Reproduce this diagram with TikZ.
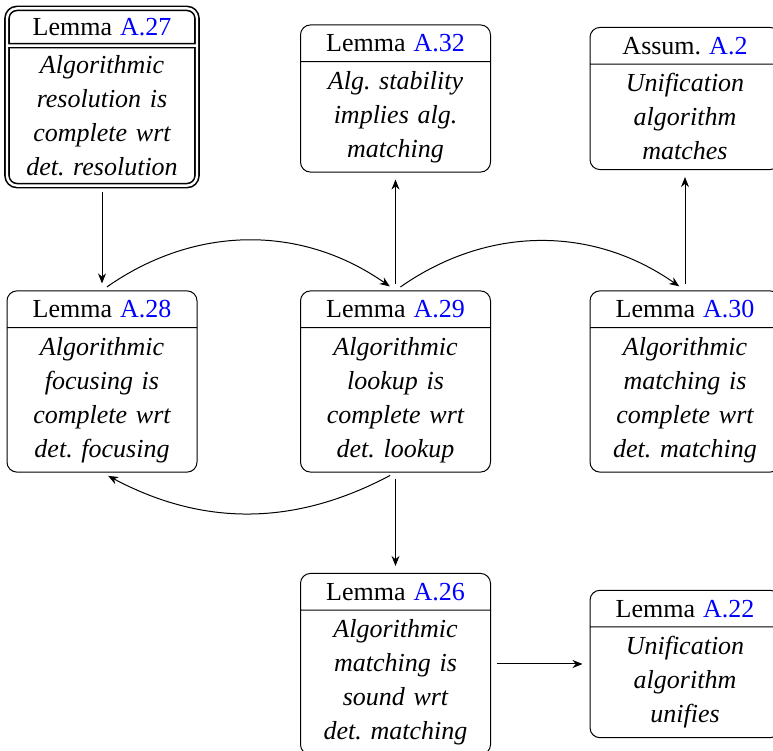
\documentclass[tikz,border=0pt]{standalone}
\usepackage{fontspec}
\setmainfont{Liberation Serif}
\usetikzlibrary{shapes.multipart,arrows.meta}
\frenchspacing
\begin{document}
\begin{tikzpicture}[x=0.5pt,y=0.5pt,
  lemmabox/.style={rectangle split, rectangle split parts=2, draw, rounded corners=5pt,
    text width=85pt, align=center, inner xsep=5pt, inner ysep=4.5pt,
    font=\fontsize{13}{17}\selectfont\frenchspacing, line width=0.5pt},
  dblbox/.style={lemmabox, double, line width=0.8pt, double distance=1.2pt},
  arr/.style={-{Stealth[length=5pt,width=4pt]}, line width=0.5pt, shorten <=3pt, shorten >=3.5pt}]
\newcommand{\hdr}[2]{#1\hspace{4pt}\textcolor{blue}{#2}}
\useasboundingbox (0,0) rectangle (773,751);
\node[dblbox] (a27) at (102,654) {\hdr{Lemma}{A.27}\nodepart{two}\itshape Algorithmic\\ resolution is\\ complete wrt\\ det. resolution};
\node[lemmabox] (a32) at (395.5,652.5) {\hdr{Lemma}{A.32}\nodepart{two}\itshape Alg. stability\\ implies alg.\\ matching};
\node[lemmabox] (a2) at (685,652.5) {\hdr{Assum.}{A.2}\nodepart{two}\itshape Unification\\ algorithm\\ matches};
\node[lemmabox] (a28) at (102,369.5) {\hdr{Lemma}{A.28}\nodepart{two}\itshape Algorithmic\\ focusing is\\ complete wrt\\ det. focusing};
\node[lemmabox] (a29) at (395.5,369.5) {\hdr{Lemma}{A.29}\nodepart{two}\itshape Algorithmic\\ lookup is\\ complete wrt\\ det. lookup};
\node[lemmabox] (a30) at (685,369.5) {\hdr{Lemma}{A.30}\nodepart{two}\itshape Algorithmic\\ matching is\\ complete wrt\\ det. matching};
\node[lemmabox] (a26) at (395.5,87) {\hdr{Lemma}{A.26}\nodepart{two}\itshape Algorithmic\\ matching is\\ sound wrt\\ det. matching};
\node[lemmabox] (a22) at (685,87) {\hdr{Lemma}{A.22}\nodepart{two}\itshape Unification\\ algorithm\\ unifies};
\draw[arr] (a27.south) -- (a28.north);
\draw[arr] (a28.north) to[bend left=35] (a29.north);
\draw[arr] (a29.north) -- (a32.south);
\draw[arr] (a29.north) to[bend left=35] (a30.north);
\draw[arr] (a30.north) -- (a2.south);
\draw[arr] (a29.south) to[bend left=28] (a28.south);
\draw[arr] (a29.south) -- (a26.north);
\draw[arr] (a26.east) -- (a22.west);
\end{tikzpicture}
\end{document}
